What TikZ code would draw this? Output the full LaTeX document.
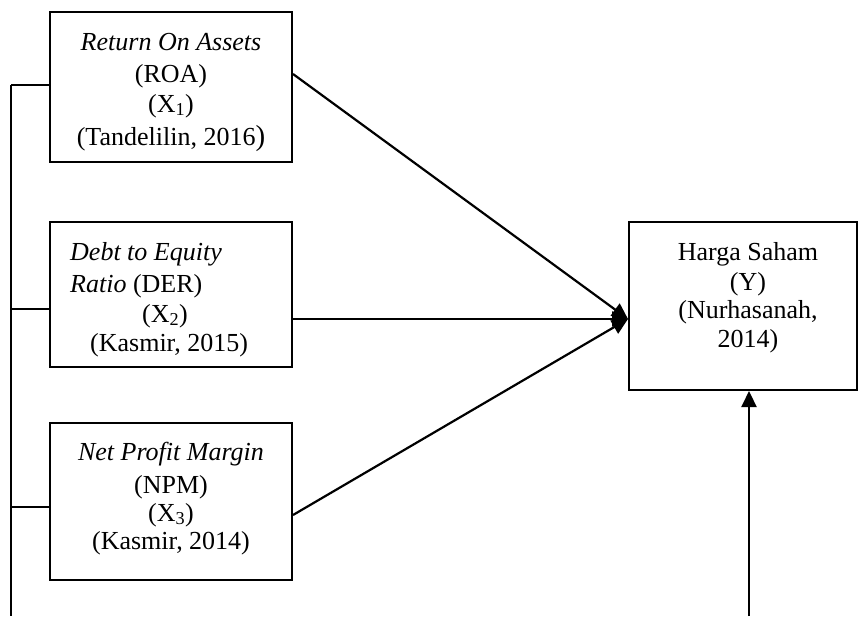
\documentclass[tikz,border=0pt]{standalone}
\usepackage{fontspec}
\setmainfont{Liberation Serif}
\usetikzlibrary{arrows.meta}
\begin{document}
\begin{tikzpicture}[x=1pt,y=-1pt,
  box/.style={draw,line width=2pt,inner sep=0pt},
  txt/.style={inner sep=0pt,anchor=base,font=\fontsize{26}{31}\selectfont},
  txtl/.style={inner sep=0pt,anchor=base west,font=\fontsize{26}{31}\selectfont},
  wire/.style={line width=2.2pt},
  arr/.style={line width=2.2pt,-{Triangle[length=16pt,width=15pt]}}]
\useasboundingbox (0,0) rectangle (858,616);
% boxes
\node[box,minimum width=242pt,minimum height=150pt] (b1) at (171,87) {};
\node[box,minimum width=242pt,minimum height=145pt] (b2) at (171,294.5) {};
\node[box,minimum width=242pt,minimum height=157pt] (b3) at (171,501.5) {};
\node[box,minimum width=228pt,minimum height=168pt] (y) at (743,306) {};
% box 1 text
\node[txt] (t11) at (171,50) {\textit{Return On Assets}};
\node[txt] (t12) at (171,82) {(ROA)};
\node[txt] (t13) at (171,112) {(X\textsubscript{1})};
\node[txt] (t14) at (171,145) {(Tandelilin, 2016{\fontsize{29}{31}\selectfont)}};
% box 2 text
\node[txtl] (t21) at (70,260) {\textit{Debt to Equity}};
\node[txtl] (t22) at (70,292) {\textit{Ratio} (DER)};
\node[txtl] (t23) at (142,322) {(X\textsubscript{2})};
\node[txtl] (t24) at (90,351) {(Kasmir, 2015)};
% box 3 text
\node[txt] (t31) at (171,460) {\textit{Net Profit Margin}};
\node[txt] (t32) at (171,493) {(NPM)};
\node[txt] (t33) at (171,521) {(X\textsubscript{3})};
\node[txt] (t34) at (171,549) {(Kasmir, 2014)};
% Y text
\node[txt] (ty1) at (748,260) {Harga Saham};
\node[txt] (ty2) at (748,290) {(Y)};
\node[txt] (ty3) at (748,318) {(Nurhasanah,};
\node[txt] (ty4) at (748,347) {2014)};
% coordinates
\coordinate (tip) at (628,319);
\coordinate (s1) at (b1.east |- 0,74);
\coordinate (s2) at (b2.east |- 0,319);
\coordinate (s3) at (b3.east |- 0,515);
\coordinate (l1) at (11,85);
\coordinate (l2) at (11,309);
\coordinate (l3) at (11,507);
\coordinate (lb) at (11,616);
\coordinate (yb) at (749,616);
\coordinate (yt) at (749,391);
% left bracket
\draw[wire] (l1) -- (lb);
\draw[wire] (l1) -- (b1.west |- l1);
\draw[wire] (l2) -- (b2.west |- l2);
\draw[wire] (l3) -- (b3.west |- l3);
% arrows
\draw[arr] (s1) -- (tip);
\draw[arr] (s2) -- (tip);
\draw[arr] (s3) -- (tip);
\draw[arr] (yb) -- (yt);
\end{tikzpicture}
\end{document}
